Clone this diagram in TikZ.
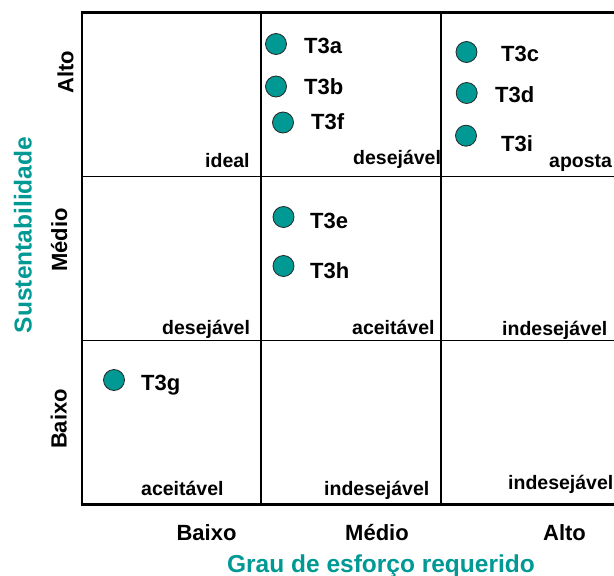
\documentclass[tikz,border=0pt]{standalone}
\usepackage{fontspec}
\setmainfont{Liberation Sans}
\definecolor{tealc}{RGB}{0,153,148}
\begin{document}
\begin{tikzpicture}[x=1pt,y=-1pt,
  every node/.style={inner sep=0pt},
  dot/.style={circle, draw=black!85, line width=0.8pt, fill=tealc, minimum size=21pt},
  tlab/.style={anchor=base west, font=\bfseries\fontsize{22}{26}\selectfont},
  cell/.style={anchor=base west, font=\bfseries\fontsize{19.5}{23}\selectfont},
  axl/.style={anchor=base, font=\bfseries\fontsize{22}{26}\selectfont},
  ttl/.style={anchor=base, text=tealc, font=\bfseries\fontsize{24.5}{29}\selectfont},
  innerline/.style={line width=1.3pt},
  outerline/.style={line width=2.6pt, line join=miter}]
\path[use as bounding box] (0,0) rectangle (614,576);
\clip (0,0) rectangle (614,576);
% grid
\draw[innerline] (261,12) -- (261,504);
\draw[innerline] (441,12) -- (441,504);
\draw[innerline] (82,176.5) -- (614,176.5);
\draw[innerline] (82,340.5) -- (614,340.5);
\draw[outerline] (614,12.5) -- (82,12.5) -- (82,504);
\draw[line width=3.5pt] (80.7,504.5) -- (614,504.5);
% dots
\node[dot] (c3a) at (276,44) {};
\node[dot] (c3b) at (276,86.5) {};
\node[dot] (c3f) at (283,122.5) {};
\node[dot] (c3c) at (466.5,52) {};
\node[dot] (c3d) at (466.7,93) {};
\node[dot] (c3i) at (466,135.7) {};
\node[dot] (c3e) at (283.5,217) {};
\node[dot] (c3h) at (283.5,266) {};
\node[dot] (c3g) at (114,380) {};
% dot labels
\node[tlab] (l3a) at (304,53.3) {T3a};
\node[tlab] (l3b) at (304,94.3) {T3b};
\node[tlab] (l3f) at (311,129.3) {T3f};
\node[tlab] (l3c) at (501,61) {T3c};
\node[tlab] (l3d) at (495,102) {T3d};
\node[tlab] (l3i) at (501,151.7) {T3i};
\node[tlab] (l3e) at (310,228.3) {T3e};
\node[tlab] (l3h) at (310,278) {T3h};
\node[tlab] (l3g) at (141,390) {T3g};
% cell labels
\node[cell] (q11) at (205,167) {ideal};
\node[cell] (q12) at (353,164) {desejável};
\node[cell] (q13) at (549,167) {aposta};
\node[cell] (q21) at (162,334) {desejável};
\node[cell] (q22) at (352,334) {aceitável};
\node[cell] (q23) at (502,335) {indesejável};
\node[cell] (q31) at (141,495) {aceitável};
\node[cell] (q32) at (324,495) {indesejável};
\node[cell] (q33) at (508,489) {indesejável};
% axis labels
\node[axl] (xb) at (206.5,540) {Baixo};
\node[axl] (xm) at (377,540) {Médio};
\node[axl] (xa) at (564.5,540) {Alto};
\node[axl, rotate=90] (ya) at (73.3,72) {Alto};
\node[axl, rotate=90] (ym) at (67,240) {Médio};
\node[axl, rotate=90] (yb) at (66.5,419) {Baixo};
\node[ttl] (xt) at (381,572) {Grau de esforço requerido};
\node[ttl, rotate=90] (yt) at (31.7,235) {Sustentabilidade};
\end{tikzpicture}
\end{document}
